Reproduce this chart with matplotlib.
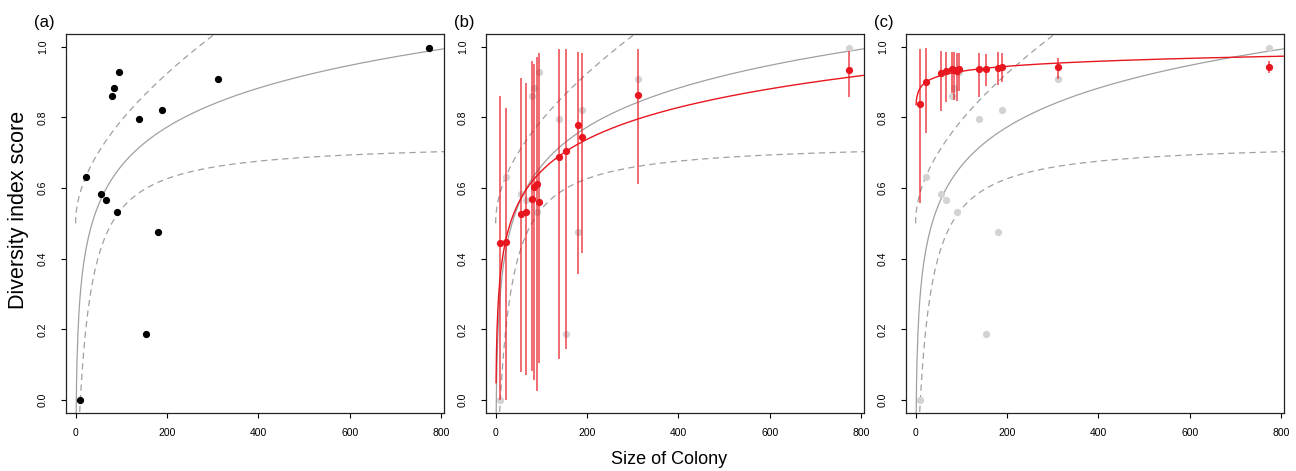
import numpy as np
import matplotlib
matplotlib.use("Agg")
import matplotlib.pyplot as plt

plt.rcParams['font.family'] = ['Liberation Sans', 'DejaVu Sans']

# ---- data ----
colony_size = [9.4, 22.5, 55.3, 66.2, 80, 83.7, 91, 95.4, 139, 153.7, 180.6, 190, 312, 773]
observed = [0.0, 0.631, 0.584, 0.565, 0.860, 0.883, 0.533, 0.928, 0.794, 0.186, 0.475, 0.820, 0.908, 0.995]

b_mean = [0.443, 0.448, 0.526, 0.532, 0.570, 0.604, 0.610, 0.561, 0.689, 0.704, 0.777, 0.744, 0.864, 0.933]
b_lo = [0.0, 0.0, 0.080, 0.071, 0.082, 0.058, 0.025, 0.104, 0.115, 0.145, 0.357, 0.417, 0.610, 0.858]
b_hi = [0.860, 0.826, 0.911, 0.896, 0.960, 0.950, 0.972, 0.982, 0.993, 0.993, 0.985, 0.982, 0.993, 0.988]

c_mean = [0.838, 0.899, 0.927, 0.931, 0.936, 0.933, 0.931, 0.936, 0.936, 0.938, 0.941, 0.942, 0.943, 0.943]
c_lo = [0.557, 0.757, 0.819, 0.844, 0.870, 0.848, 0.846, 0.875, 0.858, 0.889, 0.892, 0.901, 0.910, 0.925]
c_hi = [0.993, 0.995, 0.989, 0.984, 0.986, 0.985, 0.981, 0.981, 0.983, 0.979, 0.984, 0.982, 0.967, 0.960]

# fitted model curve parameters (log fits: a + b*ln(x))
obs_fit = (-0.070, 0.159)
b_fit = (0.049, 0.130)
c_fit = (0.836, 0.0205)
# reference envelope parameters
upper_env = (0.5, 0.0269, 0.000218)      # y0 + p*sqrt(x) + q*x
lower_env = (0.731, 31.7, 10.4)          # A*(x-x0)/(K+x-x0)

panel_labels = ['(a)', '(b)', '(c)']
xticks = [0, 200, 400, 600, 800]
yticks = [0.0, 0.2, 0.4, 0.6, 0.8, 1.0]

W, H = 1296, 471
fig = plt.figure(figsize=(W / 100, H / 100), dpi=100)

RED = '#E8161E'
GREY_PT = '#D3D3D3'
GREY_LN = '#A0A0A0'

x = np.asarray(colony_size)
xs = np.linspace(1, 810, 800)
xu = np.linspace(0, 400, 800)
xl = np.linspace(9, 810, 800)


def log_curve(p, xx):
    return p[0] + p[1] * np.log(xx)


def ref_curves(ax):
    ax.plot(xs, log_curve(obs_fit, xs), color=GREY_LN, lw=0.9, zorder=2)
    ax.plot(xu, upper_env[0] + upper_env[1] * np.sqrt(xu) + upper_env[2] * xu,
            color=GREY_LN, lw=0.9, dashes=(5, 3.5), zorder=2)
    A, K, x0 = lower_env
    ax.plot(xl, A * (xl - x0) / (K + xl - x0), color=GREY_LN, lw=0.9,
            dashes=(5, 3.5), zorder=2)


lefts = [66, 486, 906]
for i, left in enumerate(lefts):
    ax = fig.add_axes([left / W, (H - 413) / H, 378 / W, 379 / H])
    ax.set_xlim(-21, 806.6)
    ax.set_ylim(-0.0368, 1.036)
    ax.set_xticks(xticks)
    ax.set_yticks(yticks)
    ax.set_xticklabels([str(t) for t in xticks], fontsize=7.5)
    ax.set_yticklabels([f'{t:.1f}' for t in yticks], fontsize=7.5, rotation=90, va='center')
    ax.tick_params(axis='x', length=3.5, width=0.8, pad=7.5)
    ax.tick_params(axis='y', length=3.5, width=0.8, pad=9.5)
    for s in ax.spines.values():
        s.set_linewidth(0.9)
        s.set_color('#222222')

    ref_curves(ax)
    if i == 0:
        ax.plot(x, observed, 'o', color='black', ms=4.2, zorder=5)
    else:
        ax.plot(x, observed, 'o', color=GREY_PT, ms=4.2, zorder=3)
        if i == 1:
            mean, lo, hi, fit = b_mean, b_lo, b_hi, b_fit
        else:
            mean, lo, hi, fit = c_mean, c_lo, c_hi, c_fit
        ax.vlines(x, lo, hi, color=RED, lw=1.1, alpha=0.8, zorder=4)
        ax.plot(xs, log_curve(fit, xs), color=RED, lw=1.0, zorder=4)
        ax.plot(x, mean, 'o', color=RED, ms=4.2, zorder=6)

    fig.text((left - 22) / W, 1 - 23 / H, panel_labels[i], fontsize=12,
             ha='center', va='center')

fig.text(19 / W, 1 - 210 / H, 'Diversity index score', rotation=90,
         fontsize=15.5, ha='center', va='center')
fig.text(669 / W, 1 - 460 / H, 'Size of Colony', fontsize=13,
         ha='center', va='center')

fig.savefig('out.png', dpi=100)
